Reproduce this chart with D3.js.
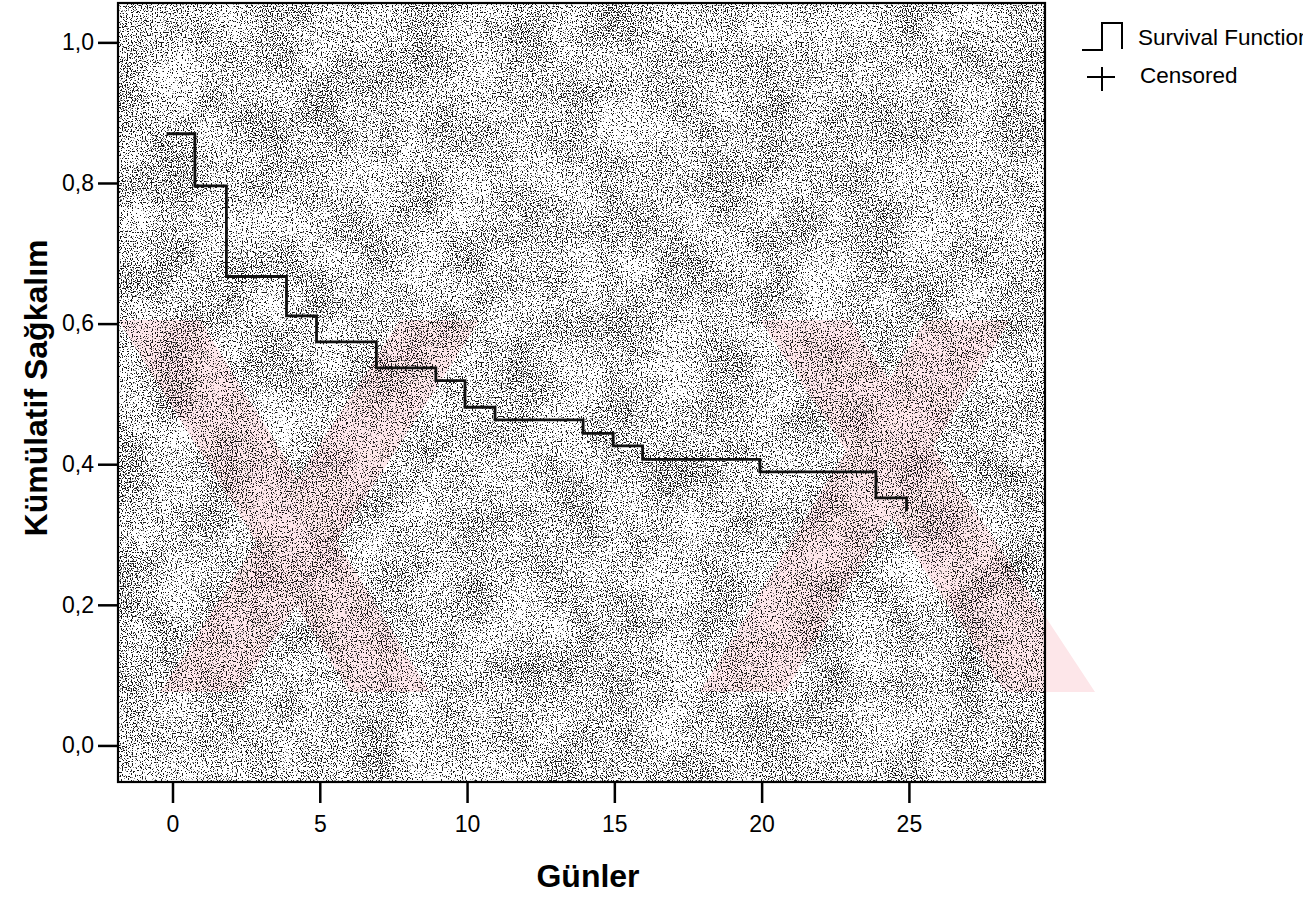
<!DOCTYPE html>
<html>
<head>
<meta charset="utf-8">
<script src="https://cdn.jsdelivr.net/npm/d3@7"></script>
<style>
  body { margin: 0; background: #fff; }
  svg { display: block; font-family: "Liberation Sans", Arial, sans-serif; }
</style>
</head>
<body>
<script>

// Data (Kaplan-Meier steps)

var days = [-0.2, 0.76, 1.83, 3.87, 4.89, 6.92, 8.94, 9.93, 10.95, 13.94, 14.96, 15.96, 19.94, 23.88, 24.92],
    survival = [0.870, 0.796, 0.667, 0.611, 0.574, 0.537, 0.519, 0.481, 0.463, 0.444, 0.426, 0.407, 0.389, 0.352, 0.333];

var xTicks = [0, 5, 10, 15, 20, 25],
    yTicks = [0, 0.2, 0.4, 0.6, 0.8, 1.0],
    legendLabels = ["Survival Function", "Censored"];

var xTitle = "Günler",
    yTitle = "Kümülatif Sağkalım";

// Plot box

var W = 1314, H = 901,
    boxL = 118, boxR = 1045, boxT = 3, boxB = 782;

var x = d3.scaleLinear().domain([-1.85, 29.62]).range([boxL, boxR]),
    y = d3.scaleLinear().domain([-0.052, 1.056]).range([boxB, boxT]);

var fmt = d3.formatLocale({decimal: ",", thousands: ".", grouping: [3], currency: ["", ""]}).format(".1f");

var svg = d3.select("body").append("svg")
    .attr("width", W)
    .attr("height", H);

var defs = svg.append("defs");

// scanned halftone look of the plot background
var f = defs.append("filter")
    .attr("id", "speckle")
    .attr("color-interpolation-filters", "sRGB")
    .attr("filterUnits", "userSpaceOnUse")
    .attr("x", boxL).attr("y", boxT)
    .attr("width", boxR - boxL).attr("height", boxB - boxT);

var opaque = "1 0 0 0 0  1 0 0 0 0  1 0 0 0 0  0 0 0 0 1";

f.append("feTurbulence")
    .attr("type", "fractalNoise")
    .attr("baseFrequency", 0.8)
    .attr("numOctaves", 1)
    .attr("seed", 4);
f.append("feColorMatrix").attr("type", "matrix").attr("values", opaque).attr("result", "hi");
f.append("feTurbulence")
    .attr("type", "fractalNoise")
    .attr("baseFrequency", 0.02)
    .attr("numOctaves", 2)
    .attr("seed", 9);
f.append("feColorMatrix").attr("type", "matrix").attr("values", opaque).attr("result", "lo");
f.append("feComposite")
    .attr("in", "hi").attr("in2", "lo")
    .attr("operator", "arithmetic")
    .attr("k1", 0).attr("k2", 1.6).attr("k3", 0.25).attr("k4", -0.425)
    .attr("result", "mix");
f.append("feColorMatrix")
    .attr("in", "mix")
    .attr("type", "matrix")
    .attr("values", "0 0 0 0 0  0 0 0 0 0  0 0 0 0 0  1 0 0 0 0");
var tr = f.append("feComponentTransfer");
tr.append("feFuncA").attr("type", "discrete")
    .attr("tableValues", "0 0 0 0 0 0 0 0 0 0 0 0 0.45 0.9 0.9 0.9 0.9 0.9 0.9 0.9");

// faint pink watermark that sits on the scan
var wm = svg.append("g").attr("fill", "#fde6e9");
[
  [[118, 320], [200, 320], [430, 692], [350, 692]],
  [[160, 692], [240, 692], [480, 320], [400, 320]],
  [[760, 320], [850, 320], [1095, 692], [1005, 692]],
  [[700, 692], [785, 692], [1010, 320], [925, 320]]
].forEach(function(p) {
  wm.append("path").attr("d", "M" + p.join("L") + "Z");
});

svg.append("rect")
    .attr("x", boxL).attr("y", boxT)
    .attr("width", boxR - boxL).attr("height", boxB - boxT)
    .attr("fill", "#1a1a1a")
    .attr("filter", "url(#speckle)");

// Axes

var yAxis = svg.append("g")
    .attr("transform", "translate(" + boxL + ",0)")
    .call(d3.axisLeft(y).tickValues(yTicks).tickSize(20).tickPadding(4).tickFormat(fmt));

var xAxis = svg.append("g")
    .attr("transform", "translate(0," + boxB + ")")
    .call(d3.axisBottom(x).tickValues(xTicks).tickSize(21).tickPadding(13).tickFormat(d3.format("d")));

[yAxis, xAxis].forEach(function(a) {
  a.select(".domain").remove();
  a.selectAll("line").attr("stroke", "#000").attr("stroke-width", 2.5);
  a.selectAll("text")
    .attr("fill", "#000")
    .style("font-size", "23px")
    .style("font-family", "'Liberation Sans', Arial, sans-serif");
});

// Survival step line

var line = d3.line()
    .x(function(d) { return x(d[0]); })
    .y(function(d) { return y(d[1]); })
    .curve(d3.curveStepAfter);

svg.append("path")
    .datum(d3.zip(days, survival))
    .attr("d", line)
    .attr("fill", "none")
    .attr("stroke", "#111")
    .attr("stroke-width", 2.8);

svg.append("rect")
    .attr("x", boxL).attr("y", boxT)
    .attr("width", boxR - boxL).attr("height", boxB - boxT)
    .attr("fill", "none")
    .attr("stroke", "#000")
    .attr("stroke-width", 2.2);

// Titles

svg.append("text")
    .attr("x", 588)
    .attr("y", 887)
    .attr("text-anchor", "middle")
    .style("font-size", "32px")
    .style("font-weight", "bold")
    .text(xTitle);

svg.append("text")
    .attr("transform", "translate(47,388) rotate(-90)")
    .attr("text-anchor", "middle")
    .style("font-size", "32px")
    .style("font-weight", "bold")
    .text(yTitle);

// Legend (cut at the right edge like the scan)

defs.append("clipPath").attr("id", "cut")
  .append("rect").attr("x", 1060).attr("y", 0).attr("width", 243).attr("height", 120);

var lg = svg.append("g").attr("clip-path", "url(#cut)");

lg.append("path")
    .attr("d", "M1082,50H1102V23H1122V49")
    .attr("fill", "none")
    .attr("stroke", "#000")
    .attr("stroke-width", 2);

lg.append("path")
    .attr("d", "M1087,77H1115M1102,67V91")
    .attr("fill", "none")
    .attr("stroke", "#000")
    .attr("stroke-width", 2);

lg.selectAll(".lt")
    .data(legendLabels)
  .enter().append("text")
    .attr("class", "lt")
    .attr("x", function(d, i) { return i ? 1140 : 1138; })
    .attr("y", function(d, i) { return i ? 83 : 45; })
    .style("font-size", "22.5px")
    .text(function(d) { return d; });

</script>
</body>
</html>
